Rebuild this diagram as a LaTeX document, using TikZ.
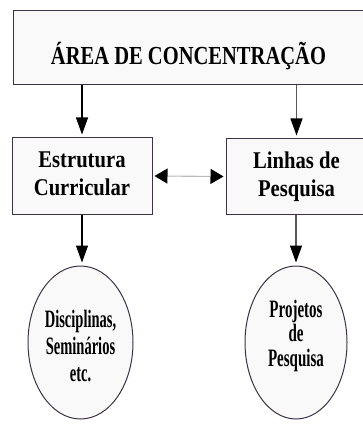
\documentclass[tikz,border=0pt]{standalone}
\usepackage{fontspec}
\setmainfont{Liberation Serif}
\usetikzlibrary{arrows.meta,shapes.geometric}
\definecolor{boxline}{HTML}{3B3344}
\definecolor{boxfill}{HTML}{FAF9FA}
\newcommand{\estreito}[2]{\scalebox{#1}[1]{\begin{tabular}{@{}c@{}}#2\end{tabular}}}
\tikzset{
  bloco/.style={draw=boxline, fill=boxfill, line width=1pt, inner sep=0pt},
  caixa/.style={bloco, minimum width=140pt, minimum height=76pt,
    font=\bfseries\fontsize{24}{28}\selectfont},
  elipse/.style={bloco, ellipse, minimum height=153pt},
  seta/.style={line width=1.1pt, -{Triangle[width=12pt,length=17pt,color=black]}, shorten >=3pt},
  setadupla/.style={line width=1.1pt, draw=gray!55,
    {Triangle[width=15pt,length=13pt,color=black]}-{Triangle[width=15pt,length=13pt,color=black]},
    shorten <=2pt, shorten >=2pt}
}
\begin{document}
\begin{tikzpicture}[x=1pt,y=-1pt]
  \useasboundingbox (0,0) rectangle (363,438);
  \clip (0,0) rectangle (363,438);
  \node[bloco, minimum width=351pt, minimum height=74pt, text height=34pt, text depth=0pt,
    font=\bfseries\fontsize{26}{30}\selectfont] (area) at (188.5,48)
    {\scalebox{0.79}[1]{ÁREA DE CONCENTRAÇÃO}};
  \node[caixa] (estr) at (82,176) {\estreito{0.86}{Estrutura\\Curricular}};
  \node[caixa, minimum width=141pt, minimum height=75pt] (linhas) at (296.5,176.5)
    {\estreito{0.86}{Linhas de\\Pesquisa}};
  \node[elipse, minimum width=105pt, font=\bfseries\fontsize{25}{27}\selectfont] (disc) at (80.5,342.5)
    {\estreito{0.58}{\rule{0pt}{33pt}Disciplinas,\\Seminários\\etc.}};
  \node[elipse, minimum width=102pt, font=\bfseries\fontsize{25}{24}\selectfont] (proj) at (296,342.5)
    {\estreito{0.6}{Projetos\\de\\Pesquisa\rule[-19pt]{0pt}{0pt}}};
  \draw[seta] (area.south -| estr.north) -- (estr.north);
  \draw[seta, draw=gray!70!black] (area.south -| linhas.north) -- (linhas.north);
  \draw[setadupla] (estr.east) -- (linhas.west);
  \draw[seta] (estr.south) -- (estr.south |- disc.north);
  \draw[seta, draw=gray!70!black] (linhas.south -| proj.north) -- (proj.north);
\end{tikzpicture}
\end{document}
